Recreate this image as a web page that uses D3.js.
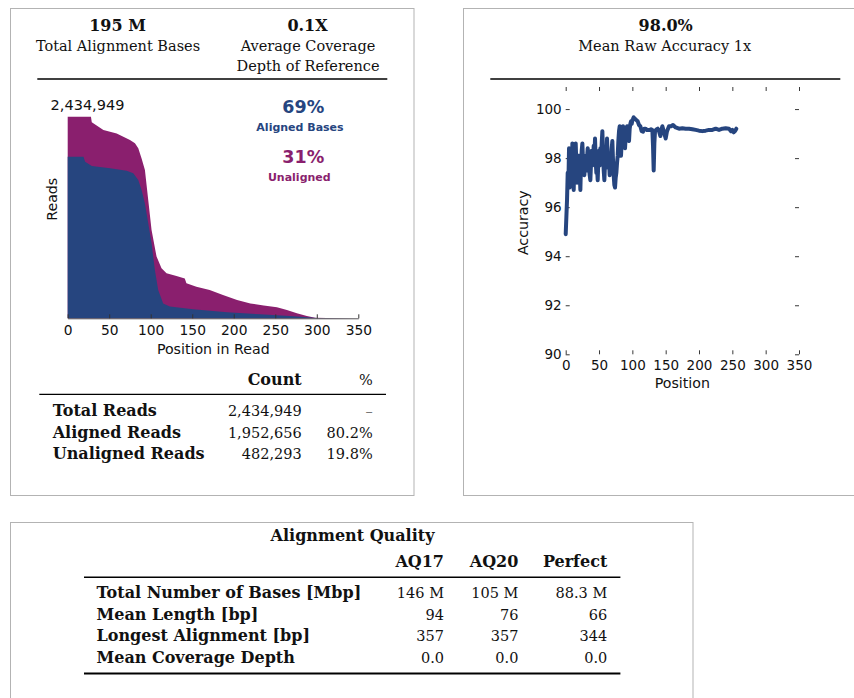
<!DOCTYPE html>
<html>
<head>
<meta charset="utf-8">
<script src="https://cdn.jsdelivr.net/npm/d3@7"></script>
<style>
  html, body { margin: 0; padding: 0; background: #fff; }
  svg { display: block; }
</style>
</head>
<body>
<svg id="chart" width="854" height="698"></svg>
<script>
// ---------- DATA ----------
const summaryLeftValues = ["195 M", "0.1X"];
const summaryLeftLabels = [["Total Alignment Bases"], ["Average Coverage", "Depth of Reference"]];
const summaryRightValue = "98.0%";
const summaryRightLabel = "Mean Raw Accuracy 1x";

const maxReads = 2434949;
const totalPositions = [0, 28, 29, 43, 59, 75, 81, 85, 89, 93, 97, 101, 107, 113, 119, 131, 141, 143, 155, 171, 187, 204, 220, 236, 252, 264, 276, 288, 298, 312, 357];
const totalReadsAt = [2434949, 2434949, 2366770, 2274240, 2232850, 2152490, 2113540, 2052660, 1930910, 1792120, 1429310, 1066510, 745090, 603870, 543000, 511340, 482120, 423680, 382290, 340890, 282450, 221580, 180190, 153400, 133920, 99830, 60870, 29220, 7300, 2430, 0];
const alignedPositions = [0, 19, 21, 29, 51, 71, 79, 85, 89, 93, 97, 101, 105, 109, 115, 123, 151, 192, 232, 272, 300, 357];
const alignedReadsAt = [1952656, 1952656, 1891950, 1838390, 1811600, 1782380, 1750730, 1670380, 1548630, 1387920, 1146880, 905800, 584390, 340890, 180190, 141230, 109570, 73050, 48700, 24350, 4870, 0];
const alignedPct = "69%";
const unalignedPct = "31%";
const readTicks = [0, 50, 100, 150, 200, 250, 300, 350];

const readsTableHeader = ["Count", "%"];
const readsTableRows = ["Total Reads", "Aligned Reads", "Unaligned Reads"];
const readsTableCounts = ["2,434,949", "1,952,656", "482,293"];
const readsTablePct = ["\u2013", "80.2%", "19.8%"];

const accPositions = [0,1,2,3,4,5,6,7,8,9,10,11,12,13,14,15,16,17,18,19,20,21,22,23,24,25,26,27,28,29,30,31,32,33,34,35,36,37,38,39,40,41,42,43,44,45,46,47,48,49,50,51,52,53,54,55,56,57,58,59,60,61,62,63,64,65,66,67,68,69,70,71,72,73,74,75,76,77,78,79,80,81,82,83,84,85,86,87,88,89,90,91,92,93,94,95,96,97,98,99,100,101,102,103,104,105,106,108,110,112,114,116,118,120,122,124,126,128,130,131,132,133,134,136,138,140,142,144,145,147,150,152,155,158,161,165,170,175,180,185,190,195,200,205,210,215,220,225,230,235,240,245,248,250,252,254,256];
const accValues = [94.9,95.6,96.3,97.4,96.9,98.4,96.8,97.7,98.3,97.0,98.6,97.6,96.7,97.9,98.2,98.6,97.8,97.0,97.6,98.1,98.1,97.4,96.7,97.8,98.3,98.6,97.9,97.6,97.3,97.9,98.1,97.5,98.0,98.4,98.2,97.6,97.3,97.1,97.8,98.3,97.7,97.9,98.5,98.0,98.8,97.9,97.4,97.6,97.1,97.9,98.3,97.7,98.4,98.0,98.6,99.1,98.2,97.5,97.1,97.8,98.4,98.0,98.8,98.1,97.6,97.9,97.3,98.2,97.8,98.4,98.7,97.9,97.3,96.9,96.8,97.2,97.4,97.8,98.1,98.7,99.1,99.3,98.6,98.1,98.7,99.0,99.3,98.9,98.6,98.4,98.9,99.2,99.3,99.0,98.8,98.7,99.2,99.4,99.5,99.4,99.55,99.6,99.66,99.62,99.6,99.58,99.55,99.5,99.35,99.3,99.1,99.08,99.2,99.2,99.15,99.15,99.15,99.18,99.15,98.5,97.5,98.6,99.1,99.17,99.2,99.1,98.9,99.2,99.3,99.1,98.8,99.1,99.3,99.3,99.35,99.25,99.2,99.22,99.2,99.2,99.18,99.15,99.12,99.1,99.12,99.15,99.15,99.2,99.15,99.2,99.22,99.2,99.1,99.15,99.05,99.1,99.2];
const accYTicks = [90, 92, 94, 96, 98, 100];
const accXTicks = [0, 50, 100, 150, 200, 250, 300, 350];

const aqTitle = "Alignment Quality";
const aqColumns = ["AQ17", "AQ20", "Perfect"];
const aqRows = ["Total Number of Bases [Mbp]", "Mean Length [bp]", "Longest Alignment [bp]", "Mean Coverage Depth"];
const aqAQ17 = ["146 M", "94", "357", "0.0"];
const aqAQ20 = ["105 M", "76", "357", "0.0"];
const aqPerfect = ["88.3 M", "66", "344", "0.0"];

// ---------- STYLE ----------
const BLUE = "#26457f";
const PURPLE = "#8a1f6e";
const SERIF = "'DejaVu Serif', serif";
const SANS = "'DejaVu Sans', sans-serif";

const svg = d3.select("#chart");
svg.append("rect").attr("width", 854).attr("height", 698).attr("fill", "#fff");

// panel borders
const panels = [
  {x: 10.5, y: 8.5, w: 403.5, h: 487},
  {x: 463.5, y: 8.5, w: 420, h: 487},
  {x: 10.5, y: 522.5, w: 682.5, h: 200}
];
svg.selectAll("rect.panel").data(panels).enter().append("rect")
  .attr("class", "panel")
  .attr("x", d => d.x).attr("y", d => d.y).attr("width", d => d.w).attr("height", d => d.h)
  .attr("fill", "none").attr("stroke", "#b3b3b3").attr("stroke-width", 1);

function txt(g, s, x, y, opts) {
  const t = g.append("text").attr("x", x).attr("y", y).text(s)
    .attr("font-family", opts.family || SERIF)
    .attr("font-size", opts.size || 14.5)
    .attr("font-weight", opts.weight || "normal")
    .attr("text-anchor", opts.anchor || "start")
    .attr("fill", opts.fill || "#111");
  if (opts.transform) t.attr("transform", opts.transform);
  return t;
}

// ---------- LEFT PANEL HEADER ----------
const headerCenters = [117.5, 307.5];
summaryLeftValues.forEach((v, i) => {
  txt(svg, v, headerCenters[i], 30.7, {weight: "bold", size: 16, anchor: "middle"});
  summaryLeftLabels[i].forEach((l, j) => {
    txt(svg, l, headerCenters[i] + 0.5, 51.3 + j * 19.4, {size: 14.5, anchor: "middle"});
  });
});
svg.append("line").attr("x1", 37.3).attr("x2", 387.3).attr("y1", 79).attr("y2", 79)
  .attr("stroke", "#000").attr("stroke-width", 1.3);

// ---------- READS AREA CHART ----------
const xR = d3.scaleLinear().domain([0, 350]).range([67.7, 358.3]);
const yR = d3.scaleLinear().domain([0, maxReads]).range([318.3, 116.7]);

const totalData = totalPositions.map((p, i) => ({x: p, y: totalReadsAt[i]}));
const alignedData = alignedPositions.map((p, i) => ({x: p, y: alignedReadsAt[i]}));
const area = d3.area().x(d => xR(Math.min(d.x, 357))).y0(yR(0)).y1(d => yR(d.y));

const gR = svg.append("g");
gR.append("path").datum(totalData).attr("d", area).attr("fill", PURPLE);
gR.append("path").datum(alignedData).attr("d", area).attr("fill", BLUE);

const axR = gR.append("g").attr("transform", `translate(0,${yR(0)})`)
  .call(d3.axisBottom(xR).tickValues(readTicks).tickSizeInner(-4).tickSizeOuter(0).tickPadding(6.5).tickFormat(d3.format("d")));
axR.select(".domain").attr("stroke", "#333").attr("stroke-width", 0.8);
axR.selectAll(".tick line").attr("stroke", "#333");
axR.selectAll(".tick text").attr("font-family", SANS).attr("font-size", 13.8).attr("fill", "#111");

txt(gR, "Position in Read", 213.3, 353.6, {family: SANS, size: 14.2, anchor: "middle"});
txt(gR, "Reads", 0, 0, {family: SANS, size: 14.2, anchor: "middle", transform: "translate(56.5,199.3) rotate(-90)"});
txt(gR, d3.format(",")(maxReads), 87.5, 110, {family: SANS, size: 14.5, anchor: "middle"});
txt(gR, alignedPct, 303.3, 112.7, {family: SANS, size: 17.5, weight: "bold", anchor: "middle", fill: BLUE});
txt(gR, "Aligned Bases", 300, 130.7, {family: SANS, size: 11, weight: "bold", anchor: "middle", fill: BLUE});
txt(gR, unalignedPct, 303.3, 162.7, {family: SANS, size: 17.5, weight: "bold", anchor: "middle", fill: PURPLE});
txt(gR, "Unaligned", 299.3, 180.7, {family: SANS, size: 11, weight: "bold", anchor: "middle", fill: PURPLE});

// ---------- READS TABLE ----------
txt(svg, readsTableHeader[0], 301.7, 385, {weight: "bold", size: 16, anchor: "end"});
txt(svg, readsTableHeader[1], 372.7, 385, {size: 14.5, anchor: "end"});
svg.append("line").attr("x1", 39.3).attr("x2", 386).attr("y1", 394.3).attr("y2", 394.3)
  .attr("stroke", "#000").attr("stroke-width", 1.3);
readsTableRows.forEach((r, i) => {
  const y = 416 + i * 21.7;
  txt(svg, r, 52.7, y, {weight: "bold", size: 16});
  txt(svg, readsTableCounts[i], 301.7, y, {size: 14.5, anchor: "end"});
  txt(svg, readsTablePct[i], 372.7, y, {size: 14.5, anchor: "end", fill: i === 0 ? "#777" : "#111"});
});

// ---------- RIGHT PANEL HEADER ----------
txt(svg, summaryRightValue, 665.7, 30.7, {weight: "bold", size: 16, anchor: "middle"});
txt(svg, summaryRightLabel, 664.7, 51.3, {size: 14.5, anchor: "middle"});
svg.append("line").attr("x1", 490.3).attr("x2", 840.3).attr("y1", 79).attr("y2", 79)
  .attr("stroke", "#000").attr("stroke-width", 1.3);

// ---------- ACCURACY CHART ----------
const xA = d3.scaleLinear().domain([0, 350]).range([565.7, 799]);
const yA = d3.scaleLinear().domain([90, 100.9]).range([354.3, 87]);
const gA = svg.append("g");

function styleAxis(sel) {
  sel.select(".domain").remove();
  sel.selectAll(".tick line").attr("stroke", "#222").attr("stroke-width", 0.9);
  sel.selectAll(".tick text").attr("font-family", SANS).attr("font-size", 13.5).attr("fill", "#111");
}
styleAxis(gA.append("g").attr("transform", `translate(${xA(0)},0)`)
  .call(d3.axisLeft(yA).tickValues(accYTicks).tickSizeInner(-4).tickSizeOuter(0).tickPadding(4)));
styleAxis(gA.append("g").attr("transform", `translate(${xA(350)},0)`)
  .call(d3.axisRight(yA).tickValues(accYTicks).tickSizeInner(-4).tickSizeOuter(0).tickFormat("")));
styleAxis(gA.append("g").attr("transform", `translate(0,${yA(100.9)})`)
  .call(d3.axisTop(xA).tickValues(accXTicks).tickSizeInner(-4).tickSizeOuter(0).tickFormat("")));
styleAxis(gA.append("g").attr("transform", `translate(0,${yA(90)})`)
  .call(d3.axisBottom(xA).tickValues(accXTicks).tickSizeInner(-4).tickSizeOuter(0).tickPadding(6)));

const accData = accPositions.map((p, i) => ({x: p, y: accValues[i]}));
gA.append("path").datum(accData)
  .attr("d", d3.line().x(d => xA(d.x)).y(d => yA(d.y)))
  .attr("fill", "none").attr("stroke", BLUE).attr("stroke-width", 4)
  .attr("stroke-linejoin", "round").attr("stroke-linecap", "round");

txt(gA, "Position", 682.3, 387.7, {family: SANS, size: 14.2, anchor: "middle"});
txt(gA, "Accuracy", 0, 0, {family: SANS, size: 14.2, anchor: "middle", transform: "translate(528,222.7) rotate(-90)"});

// ---------- ALIGNMENT QUALITY TABLE ----------
const colRight = [444, 518.4, 607.3];
txt(svg, aqTitle, 352.5, 540.7, {weight: "bold", size: 16, anchor: "middle"});
aqColumns.forEach((c, i) => txt(svg, c, colRight[i], 566.9, {weight: "bold", size: 16, anchor: "end"}));
svg.append("line").attr("x1", 84).attr("x2", 620.4).attr("y1", 577.3).attr("y2", 577.3)
  .attr("stroke", "#000").attr("stroke-width", 1.4);
const aqCols = [aqAQ17, aqAQ20, aqPerfect];
aqRows.forEach((r, i) => {
  const y = 598.3 + i * 21.5;
  txt(svg, r, 96.5, y, {weight: "bold", size: 16});
  aqCols.forEach((col, j) => txt(svg, col[i], colRight[j], y, {size: 14.5, anchor: "end"}));
});
svg.append("line").attr("x1", 84).attr("x2", 620.4).attr("y1", 673.5).attr("y2", 673.5)
  .attr("stroke", "#000").attr("stroke-width", 2);
</script>
</body>
</html>
